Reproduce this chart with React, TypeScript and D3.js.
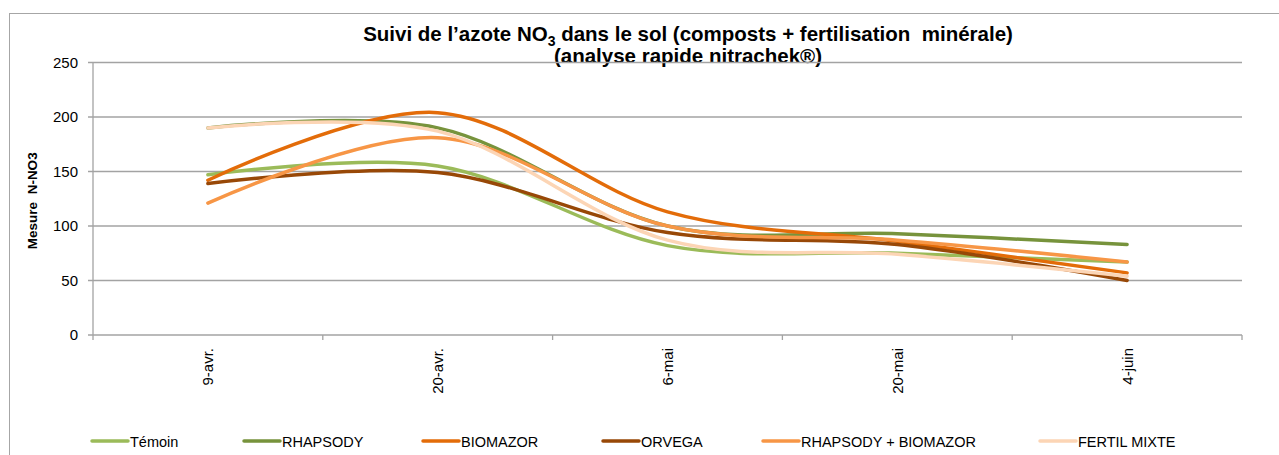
import React from 'react';
import * as d3 from 'd3';

const categories = ['9-avr.', '20-avr.', '6-mai', '20-mai', '4-juin'];

const seriesNames = ['Témoin', 'RHAPSODY', 'BIOMAZOR', 'ORVEGA', 'RHAPSODY + BIOMAZOR', 'FERTIL MIXTE'];
const seriesColors = ['#9bbb59', '#77933c', '#e36c09', '#984807', '#f79646', '#fcd5b5'];

const temoin = [147, 155, 82, 75, 67];
const rhapsody = [190, 190, 100, 93, 83];
const biomazor = [142, 204, 113, 86, 57];
const orvega = [139, 149, 94, 83, 50];
const rhapsodyBiomazor = [121, 181, 100, 87, 67];
const fertilMixte = [190, 187, 87, 74, 54];

const seriesValues = [temoin, rhapsody, biomazor, orvega, rhapsodyBiomazor, fertilMixte];

const yTicks = [0, 50, 100, 150, 200, 250];

// legend item start positions (layout only)
const legendX = [92, 244, 423, 603, 763, 1040];

const W = 1279, H = 455;
const plot = { left: 93, right: 1242, top: 62.5, bottom: 335 };
const font = '"Liberation Sans", Arial, sans-serif';
const gridColor = '#a3a3a3';

export default function App() {
  const x = d3.scaleBand<string>().domain(categories).range([plot.left, plot.right]);
  const y = d3.scaleLinear().domain([0, 250]).range([plot.bottom, plot.top]);
  const cx = (c: string) => (x(c) as number) + x.bandwidth() / 2;

  const line = d3.line<number>()
    .x((_, i) => cx(categories[i]))
    .y(d => y(d))
    .curve(d3.curveCardinal.tension(0));

  const boundaries = categories.map(c => x(c) as number).concat([plot.right]);

  return (
    <div style={{ position: 'fixed', left: 0, top: 0 }}>
      <svg width={W} height={H} style={{ display: 'block', background: '#fff' }}>
        <rect x={9.5} y={13.5} width={W + 20} height={H + 20} fill="none" stroke="#a6a6a6" strokeWidth={1} />

        {/* title */}
        <text x={688} y={41} textAnchor="middle" fontFamily={font} fontWeight="bold" fontSize={20.5} fill="#000"
          style={{ whiteSpace: 'pre' }}>
          Suivi de l’azote NO<tspan fontSize={14} dy={5}>3</tspan><tspan dy={-5}>{' dans le sol (composts + fertilisation  minérale)'}</tspan>
        </text>
        <text x={688} y={63} textAnchor="middle" fontFamily={font} fontWeight="bold" fontSize={20.5} fill="#000">
          (analyse rapide nitrachek®)
        </text>

        {/* grid + y axis */}
        {yTicks.map(t => (
          <g key={t}>
            <line x1={plot.left - 5} x2={plot.right} y1={y(t)} y2={y(t)} stroke={gridColor} strokeWidth={1.3} />
            <text x={78} y={y(t) + 5} textAnchor="end" fontFamily={font} fontSize={15} fill="#000">{t}</text>
          </g>
        ))}
        <line x1={plot.left} x2={plot.left} y1={plot.top} y2={plot.bottom} stroke={gridColor} strokeWidth={1.3} />
        <text transform={`translate(37,${(plot.top + plot.bottom) / 2 + 2}) rotate(-90)`} textAnchor="middle"
          fontFamily={font} fontWeight="bold" fontSize={13.5} fill="#000" style={{ whiteSpace: 'pre' }}>
          {'Mesure  N-NO3'}
        </text>

        {/* x axis */}
        {boundaries.map((b, i) => (
          <line key={i} x1={b} x2={b} y1={plot.bottom} y2={plot.bottom + 5} stroke={gridColor} strokeWidth={1.3} />
        ))}
        {categories.map(c => (
          <text key={c} transform={`translate(${cx(c) + 5.5},${plot.bottom + 13}) rotate(-90)`} textAnchor="end"
            fontFamily={font} fontSize={15} fill="#000">{c}</text>
        ))}

        {/* series */}
        {seriesValues.map((vals, i) => (
          <path key={seriesNames[i]} d={line(vals) || ''} fill="none" stroke={seriesColors[i]}
            strokeWidth={3.5} strokeLinecap="round" />
        ))}

        {/* legend */}
        {seriesNames.map((n, i) => (
          <g key={n} transform={`translate(${legendX[i]},441)`}>
            <line x1={0} x2={36} y1={0} y2={0} stroke={seriesColors[i]} strokeWidth={3.5} strokeLinecap="round" />
            <text x={38} y={5.5} fontFamily={font} fontSize={14.5} fill="#000">{n}</text>
          </g>
        ))}
      </svg>
    </div>
  );
}
